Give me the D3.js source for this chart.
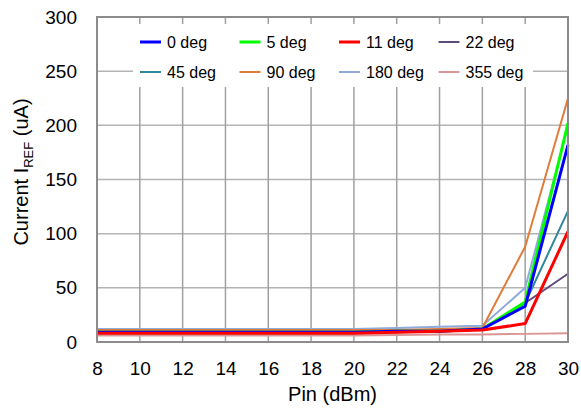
<!DOCTYPE html>
<html>
<head>
<meta charset="utf-8">
<script src="https://cdn.jsdelivr.net/npm/d3@7"></script>
<style>
  body { margin: 0; background: #fff; }
  text { font-family: "Liberation Sans", Arial, sans-serif; fill: #000; }
</style>
</head>
<body>
<div id="chart"></div>
<script>
// data
var pin = [8, 10, 12, 14, 16, 18, 20, 22, 24, 26, 28, 30];
var deg0   = [9, 9, 9, 9, 9, 9, 9, 10, 10, 12, 33, 182];
var deg5   = [9, 9, 9, 9, 9, 9, 9, 10, 10, 12, 37, 202];
var deg11  = [8, 8, 8, 8, 8, 8, 8, 9, 10, 11, 17, 102];
var deg22  = [9, 9, 9, 9, 9, 9, 9, 9.5, 10, 12, 36, 63];
var deg45  = [8, 8, 8, 8, 8, 8, 8, 9, 10, 12, 36, 121];
var deg90  = [11, 11, 11, 11, 11, 11, 11, 11, 12, 13, 88, 225];
var deg180 = [12, 12, 12, 12, 12, 12, 12, 13, 14, 15, 50, 199];
var deg355 = [6, 6, 6, 6, 6, 6, 6, 6.5, 7, 7, 7.5, 8];
var seriesNames = ["0 deg", "5 deg", "11 deg", "22 deg", "45 deg", "90 deg", "180 deg", "355 deg"];
var xTicks = [8, 10, 12, 14, 16, 18, 20, 22, 24, 26, 28, 30];
var yTicks = [0, 50, 100, 150, 200, 250, 300];

var colors = ["#0000ff", "#00ff00", "#ff0000", "#604a7b", "#31859c", "#e07b39", "#8eaadb", "#d99694"];
var widths = [3, 3, 3, 2, 2, 2, 2, 2];
var allSeries = [deg0, deg5, deg11, deg22, deg45, deg90, deg180, deg355];

var margin = {top: 17, right: 13, bottom: 69, left: 97},
    width = 581 - margin.left - margin.right,
    height = 411 - margin.top - margin.bottom;

var svg = d3.select("#chart").append("svg")
    .attr("width", 581)
    .attr("height", 411);
var g = svg.append("g")
    .attr("transform", "translate(" + margin.left + "," + margin.top + ")");

var x = d3.scaleLinear().domain([8, 30]).range([0, width]);
var y = d3.scaleLinear().domain([0, 300]).range([height, 0]);

// grid
g.selectAll(".hgrid").data(yTicks).enter().append("line")
    .attr("x1", 0).attr("x2", width)
    .attr("y1", function(d) { return y(d); }).attr("y2", function(d) { return y(d); })
    .attr("stroke", "#b4b4b4").attr("stroke-width", 1.5);
g.selectAll(".vgrid").data(xTicks).enter().append("line")
    .attr("x1", function(d) { return x(d); }).attr("x2", function(d) { return x(d); })
    .attr("y1", 0).attr("y2", height)
    .attr("stroke", "#a0a0a0").attr("stroke-width", 1.5);

// legend background covers the grid
var legX = 36, legY = 7;
g.append("rect")
    .attr("x", legX).attr("y", legY)
    .attr("width", 400).attr("height", 63)
    .attr("fill", "#fff");

// lines
var line = d3.line()
    .x(function(d, i) { return x(pin[i]); })
    .y(function(d) { return y(d); });

var order = [7, 3, 4, 6, 5, 1, 0, 2];
order.forEach(function(k) {
  g.append("path")
    .datum(allSeries[k])
    .attr("fill", "none")
    .attr("stroke", colors[k])
    .attr("stroke-width", widths[k])
    .attr("stroke-linejoin", "round")
    .attr("d", line);
});

// frame
g.append("rect")
    .attr("x", 0).attr("y", 0)
    .attr("width", width).attr("height", height)
    .attr("fill", "none")
    .attr("stroke", "#8c8c8c").attr("stroke-width", 2);

// axes (labels only)
var xAxis = g.append("g")
    .attr("transform", "translate(0," + height + ")")
    .call(d3.axisBottom(x).tickValues(xTicks).tickSize(0).tickPadding(20));
xAxis.select(".domain").remove();
xAxis.selectAll("text").style("font-size", "19px").attr("font-family", null);

var yAxis = g.append("g")
    .call(d3.axisLeft(y).tickValues(yTicks).tickSize(0).tickPadding(20));
yAxis.select(".domain").remove();
yAxis.selectAll("text").style("font-size", "19px").attr("font-family", null);

// legend
var leg = g.selectAll(".leg").data(seriesNames).enter().append("g")
    .attr("transform", function(d, i) {
      return "translate(" + (legX + 7 + (i % 4) * 99.5) + "," + (legY + 18 + Math.floor(i / 4) * 30) + ")";
    });
leg.append("line")
    .attr("x1", 0).attr("x2", 21)
    .attr("stroke", function(d, i) { return colors[i]; })
    .attr("stroke-width", function(d, i) { return widths[i]; });
leg.append("text")
    .attr("x", 27).attr("dy", "0.35em")
    .style("font-size", "16px")
    .text(function(d) { return d; });

// axis titles
svg.append("text")
    .attr("x", margin.left + width / 2)
    .attr("y", 401)
    .attr("text-anchor", "middle")
    .style("font-size", "20px")
    .text("Pin (dBm)");

var yt = svg.append("text")
    .attr("transform", "translate(28,172) rotate(-90)")
    .attr("text-anchor", "middle")
    .style("font-size", "20px");
yt.append("tspan").text("Current I");
yt.append("tspan").attr("dy", 5).style("font-size", "13px").text("REF");
yt.append("tspan").attr("dy", -5).text(" (uA)");
</script>
</body>
</html>
